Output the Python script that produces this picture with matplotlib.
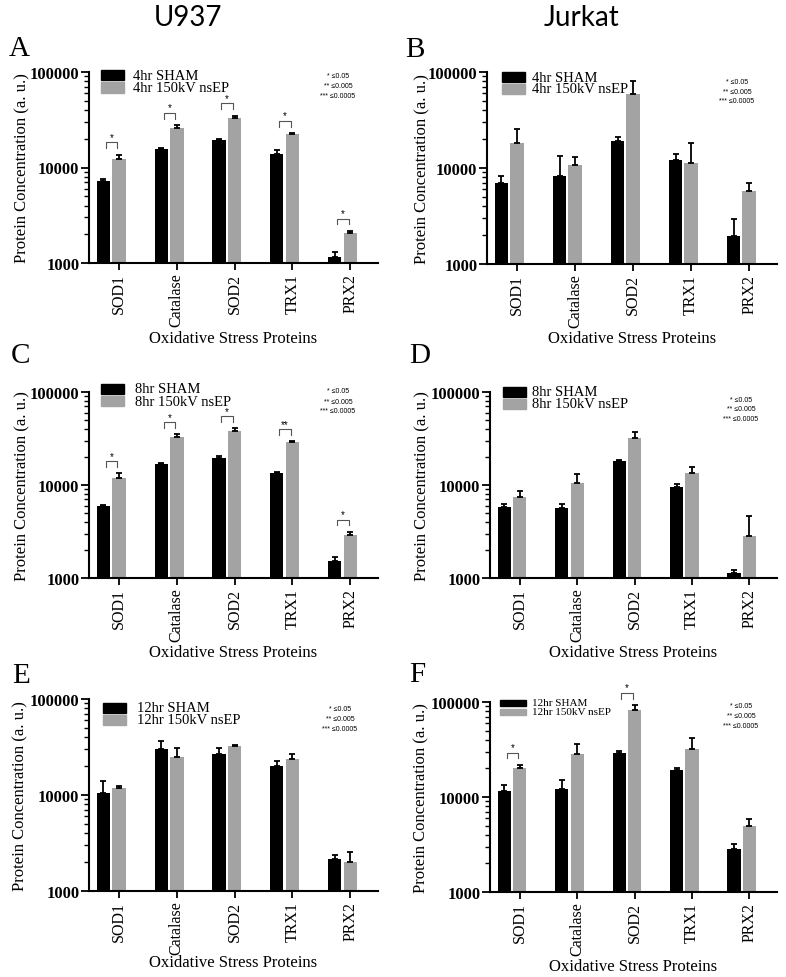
import numpy as np
import matplotlib
matplotlib.use('Agg')
import matplotlib.pyplot as plt
from matplotlib.patches import Rectangle

plt.rcParams['font.family'] = ['Liberation Serif', 'DejaVu Serif']

proteins = ['SOD1', 'Catalase', 'SOD2', 'TRX1', 'PRX2']

# A : U937 4hr
a_sham = [7260, 15540, 19310, 14000, 1165]
a_sham_err = [410, 380, 490, 1170, 148]
a_ep = [12330, 26190, 33340, 22300, 2042]
a_ep_err = [1230, 1530, 1630, 500, 118]
a_sig = [(0, '*'), (1, '*'), (2, '*'), (3, '*'), (4, '*')]

# B : Jurkat 4hr
b_sham = [7030, 8180, 19300, 12030, 1945]
b_sham_err = [1150, 5280, 1960, 1870, 985]
b_ep = [18250, 10660, 58880, 11280, 5750]
b_ep_err = [7110, 2470, 22270, 6830, 1220]
b_sig = []

# C : U937 8hr
c_sham = [5960, 16650, 19370, 13530, 1514]
c_sham_err = [190, 680, 950, 170, 165]
c_ep = [11820, 32780, 37840, 28840, 2931]
c_ep_err = [1510, 2150, 2800, 720, 217]
c_sig = [(0, '*'), (1, '*'), (2, '*'), (3, '**'), (4, '*')]

# D : Jurkat 8hr
d_sham = [5870, 5630, 18190, 9460, 1118]
d_sham_err = [430, 620, 510, 700, 102]
d_ep = [7450, 10400, 31760, 13530, 2860]
d_ep_err = [1080, 2810, 5470, 2090, 1830]
d_sig = []

# E : U937 12hr
e_sham = [10570, 30270, 26650, 20000, 2148]
e_sham_err = [3510, 6630, 4320, 2360, 216]
e_ep = [11820, 24990, 32260, 23450, 2016]
e_ep_err = [480, 5770, 1310, 2980, 524]
e_sig = []

# F : Jurkat 12hr
f_sham = [11570, 12140, 29060, 19240, 2860]
f_sham_err = [1700, 3080, 1700, 1120, 340]
f_ep = [20360, 28370, 81690, 32270, 4950]
f_ep_err = [1360, 7470, 10570, 9870, 960]
f_sig = [(0, '*'), (2, '*')]

key_lines = ['* \u22640.05', '** \u22640.005', '*** \u22640.0005']

GRAY = '#a3a3a3'
W, H = 786, 978


def fx(x):
    return x / W


def fy(y):
    return 1 - y / H


# layout in pixels: axes rect (l, t, r, b), letter pos, legend, key, xlabel y, ylabel x
panels = [
    dict(letter='A', hr='4hr', sham=a_sham, sham_err=a_sham_err, ep=a_ep, ep_err=a_ep_err, sig=a_sig,
         rect=(89, 73, 378, 264), let=(19, 49), leg=(101, 133, 76, 12.3, 10.5, 23, 10.5),
         key=(338, 77), xl=339, yl=22),
    dict(letter='B', hr='4hr', sham=b_sham, sham_err=b_sham_err, ep=b_ep, ep_err=b_ep_err, sig=b_sig,
         rect=(487, 73, 777, 265), let=(415, 50), leg=(502, 532, 78, 11.8, 10.5, 23, 10.5),
         key=(737, 82), xl=339, yl=422),
    dict(letter='C', hr='8hr', sham=c_sham, sham_err=c_sham_err, ep=c_ep, ep_err=c_ep_err, sig=c_sig,
         rect=(89, 393, 378, 579), let=(21, 356), leg=(101, 135, 390, 12, 10.5, 23, 10.5),
         key=(338, 392), xl=653, yl=22),
    dict(letter='D', hr='8hr', sham=d_sham, sham_err=d_sham_err, ep=d_ep, ep_err=d_ep_err, sig=d_sig,
         rect=(490, 393, 777, 579), let=(420, 356), leg=(503, 532, 393, 12, 10.5, 23, 10.5),
         key=(741, 400), xl=653, yl=422),
    dict(letter='E', hr='12hr', sham=e_sham, sham_err=e_sham_err, ep=e_ep, ep_err=e_ep_err, sig=e_sig,
         rect=(89, 700, 378, 892), let=(21, 676), leg=(103, 137, 709, 12, 10.5, 23, 10.5),
         key=(340, 710), xl=963, yl=20),
    dict(letter='F', hr='12hr', sham=f_sham, sham_err=f_sham_err, ep=f_ep, ep_err=f_ep_err, sig=f_sig,
         rect=(490, 703, 777, 893), let=(417, 675), leg=(500, 532, 704, 9, 8, 26, 6.5),
         key=(741, 707), xl=967, yl=421),
]

fig = plt.figure(figsize=(W / 100, H / 100), dpi=100)

fig.text(fx(188), fy(18), 'U937', fontsize=20, family=['Lato', 'DejaVu Sans'], ha='center', va='center')
fig.text(fx(581), fy(18), 'Jurkat', fontsize=20, family=['Lato', 'DejaVu Sans'], ha='center', va='center')

for p in panels:
    l, t, r, b = p['rect']
    ax = fig.add_axes([fx(l), fy(b), (r - l) / W, (b - t) / H])
    x = np.arange(len(proteins))
    zeros = np.zeros(len(proteins))

    ax.bar(x - 0.27, p['sham'], width=0.23, color='black', log=True, zorder=2)
    ax.bar(x, p['ep'], width=0.23, color=GRAY, log=True, zorder=2)
    ax.errorbar(x - 0.27, p['sham'], yerr=[zeros, p['sham_err']], fmt='none', ecolor='black',
                elinewidth=1.3, capsize=2, capthick=1.3, zorder=3)
    ax.errorbar(x, p['ep'], yerr=[zeros, p['ep_err']], fmt='none', ecolor='black',
                elinewidth=1.3, capsize=2, capthick=1.3, zorder=3)

    ax.set_yscale('log')
    ax.set_ylim(1000, 100000)
    ax.set_xlim(-0.52, 4.48)
    ax.set_yticks([1000, 10000, 100000])
    ax.set_yticklabels(['1000', '10000', '100000'], fontweight='bold', fontsize=12)
    ax.yaxis.set_minor_locator(matplotlib.ticker.LogLocator(subs=np.arange(2, 10)))
    ax.yaxis.set_minor_formatter(matplotlib.ticker.NullFormatter())
    ax.set_xticks(x)
    ax.set_xticklabels(proteins, rotation=90, fontsize=11.5)
    ax.tick_params(axis='y', which='major', length=6, width=1.3, pad=1)
    ax.tick_params(axis='y', which='minor', length=3.5, width=1)
    ax.tick_params(axis='x', length=5, width=1.3, pad=2)
    for s in ['top', 'right']:
        ax.spines[s].set_visible(False)
    for s in ['left', 'bottom']:
        ax.spines[s].set_linewidth(1.5)

    # significance brackets
    for i, s in p['sig']:
        top = (p['ep'][i] + p['ep_err'][i]) * 10 ** 0.13
        leg = top / 10 ** 0.06
        x0, x1 = i - 0.23, i - 0.03
        ax.plot([x0, x0, x1, x1], [leg, top, top, leg], color='#555555', lw=0.8, clip_on=False)
        ax.text((x0 + x1) / 2, top * 10 ** 0.005, s, ha='center', va='bottom', fontsize=7,
                family=['Liberation Sans', 'DejaVu Sans'])

    # legend
    hl, tl, ry, dy, fs, hw, hh = p['leg']
    labels = [p['hr'] + ' SHAM', p['hr'] + ' 150kV nsEP']
    for k, (lab, col) in enumerate(zip(labels, ['black', GRAY])):
        yc = ry + k * dy
        fig.patches.append(Rectangle((fx(hl), fy(yc + hh / 2)), hw / W, hh / H, color=col,
                                     transform=fig.transFigure))
        fig.text(fx(tl), fy(yc), lab, ha='left', va='center', fontsize=fs)

    # p-value key
    kx, ky = p['key']
    for k, line in enumerate(key_lines):
        fig.text(fx(kx), fy(ky + 10 * k), line, ha='center', va='center', fontsize=5,
                 family=['Liberation Sans', 'DejaVu Sans'])

    fig.text(fx((l + r) / 2), fy(p['xl']), 'Oxidative Stress Proteins', ha='center', va='center', fontsize=12)
    fig.text(fx(p['yl']), fy((t + b) / 2), 'Protein Concentration (a. u.)', rotation=90,
             ha='center', va='center', fontsize=12)
    fig.text(fx(p['let'][0]), fy(p['let'][1]), p['letter'], ha='center', va='center', fontsize=21)

fig.savefig('out.png', dpi=100)
